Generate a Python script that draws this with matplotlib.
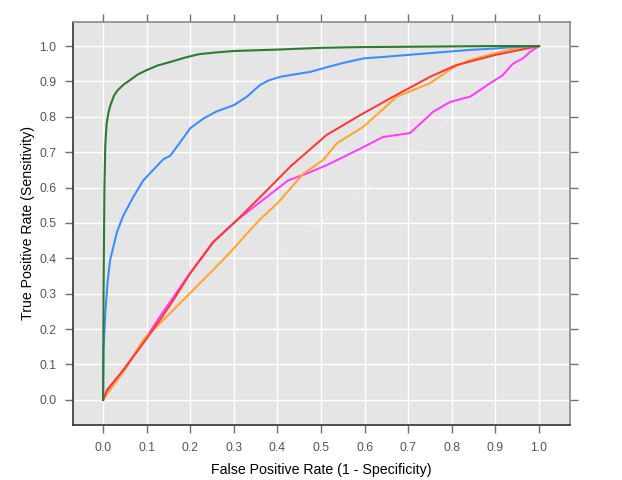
import matplotlib
matplotlib.use("Agg")
import matplotlib.pyplot as plt

plt.rcParams['font.family'] = ['Liberation Sans', 'DejaVu Sans']

# ROC curves
green_x = [0.0, 0.001, 0.003, 0.005, 0.008, 0.012, 0.016, 0.025, 0.034, 0.048, 0.062, 0.08, 0.10, 0.125, 0.154, 0.19, 0.22, 0.26, 0.30, 0.35, 0.40, 0.50, 0.59, 0.70, 0.80, 0.90, 1.0]
green_y = [0.0, 0.3, 0.6, 0.72, 0.78, 0.81, 0.83, 0.86, 0.876, 0.892, 0.904, 0.92, 0.932, 0.945, 0.955, 0.968, 0.977, 0.982, 0.986, 0.988, 0.99, 0.995, 0.997, 0.998, 0.999, 1.0, 1.0]

blue_x = [0.0, 0.001, 0.005, 0.01, 0.016, 0.032, 0.046, 0.07, 0.092, 0.115, 0.138, 0.154, 0.175, 0.2, 0.23, 0.26, 0.30, 0.33, 0.36, 0.38, 0.406, 0.44, 0.475, 0.513, 0.55, 0.597, 0.65, 0.70, 0.75, 0.80, 0.84, 0.90, 0.94, 1.0]
blue_y = [0.0, 0.14, 0.245, 0.33, 0.395, 0.475, 0.52, 0.575, 0.62, 0.65, 0.68, 0.69, 0.725, 0.768, 0.795, 0.815, 0.833, 0.857, 0.89, 0.903, 0.913, 0.92, 0.927, 0.94, 0.952, 0.965, 0.97, 0.975, 0.98, 0.985, 0.989, 0.993, 0.997, 1.0]

red_x = [0.0, 0.009, 0.05, 0.092, 0.13, 0.16, 0.2, 0.253, 0.307, 0.37, 0.43, 0.513, 0.59, 0.67, 0.75, 0.81, 0.90, 1.0]
red_y = [0.0, 0.028, 0.09, 0.16, 0.225, 0.28, 0.358, 0.446, 0.508, 0.585, 0.66, 0.749, 0.805, 0.86, 0.913, 0.946, 0.975, 1.0]

orange_x = [0.0, 0.016, 0.05, 0.092, 0.154, 0.206, 0.252, 0.29, 0.33, 0.36, 0.40, 0.46, 0.505, 0.536, 0.597, 0.674, 0.75, 0.80, 0.84, 0.90, 0.95, 1.0]
orange_y = [0.0, 0.028, 0.085, 0.17, 0.245, 0.31, 0.367, 0.415, 0.47, 0.51, 0.556, 0.64, 0.678, 0.725, 0.772, 0.857, 0.895, 0.937, 0.96, 0.98, 0.994, 1.0]

magenta_x = [0.0, 0.01, 0.085, 0.13, 0.193, 0.252, 0.307, 0.376, 0.424, 0.468, 0.514, 0.59, 0.642, 0.704, 0.757, 0.796, 0.842, 0.888, 0.917, 0.94, 0.963, 0.98, 1.0]
magenta_y = [0.0, 0.022, 0.15, 0.235, 0.347, 0.446, 0.508, 0.574, 0.62, 0.64, 0.664, 0.71, 0.743, 0.754, 0.814, 0.842, 0.857, 0.895, 0.918, 0.95, 0.965, 0.984, 1.0]

ticks = [i / 10 for i in range(11)]
tick_labels = ["%.1f" % t for t in ticks]

fig = plt.figure(figsize=(6.22, 4.8), dpi=100)
ax = fig.add_axes([0.1174, 0.1146, 0.799, 0.8396])
ax.set_facecolor('#e5e5e5')

for t in ticks:
    ax.axvline(t, color='white', lw=1.0, zorder=1)
    ax.axhline(t, color='white', lw=1.0, zorder=1)

ax.plot([0, 1], [0, 1], color='#f4f4f4', lw=1.0, ls=(0, (1, 2)), zorder=2)

ax.plot(magenta_x, magenta_y, color='#ff40ff', lw=1.5, zorder=3)
ax.plot(orange_x, orange_y, color='#ffa633', lw=1.5, zorder=3)
ax.plot(red_x, red_y, color='#ff3a3a', lw=1.5, zorder=3)
ax.plot(blue_x, blue_y, color='#3d8fff', lw=1.5, zorder=3)
ax.plot(green_x, green_y, color='#2e7a2e', lw=1.5, zorder=3)

ax.set_xlim(-0.069, 1.071)
ax.set_ylim(-0.071, 1.068)
ax.set_xticks(ticks)
ax.set_yticks(ticks)
ax.set_xticklabels(tick_labels, color='#555555', fontsize=8.8)
ax.set_yticklabels(tick_labels, color='#555555', fontsize=8.8)
ax.tick_params(direction='out', length=6, width=1, color='#707070',
               top=True, right=True, pad=6)

for side in ['top', 'right']:
    ax.spines[side].set_color('#8a8a8a')
for side in ['left', 'bottom']:
    ax.spines[side].set_color('#333333')
for s in ax.spines.values():
    s.set_linewidth(1.2)

ax.set_xlabel('False Positive Rate (1 - Specificity)', fontsize=10.2, labelpad=7)
ax.set_ylabel('True Positive Rate (Sensitivity)', fontsize=10.2, labelpad=3)

fig.savefig('out.png', dpi=100)
